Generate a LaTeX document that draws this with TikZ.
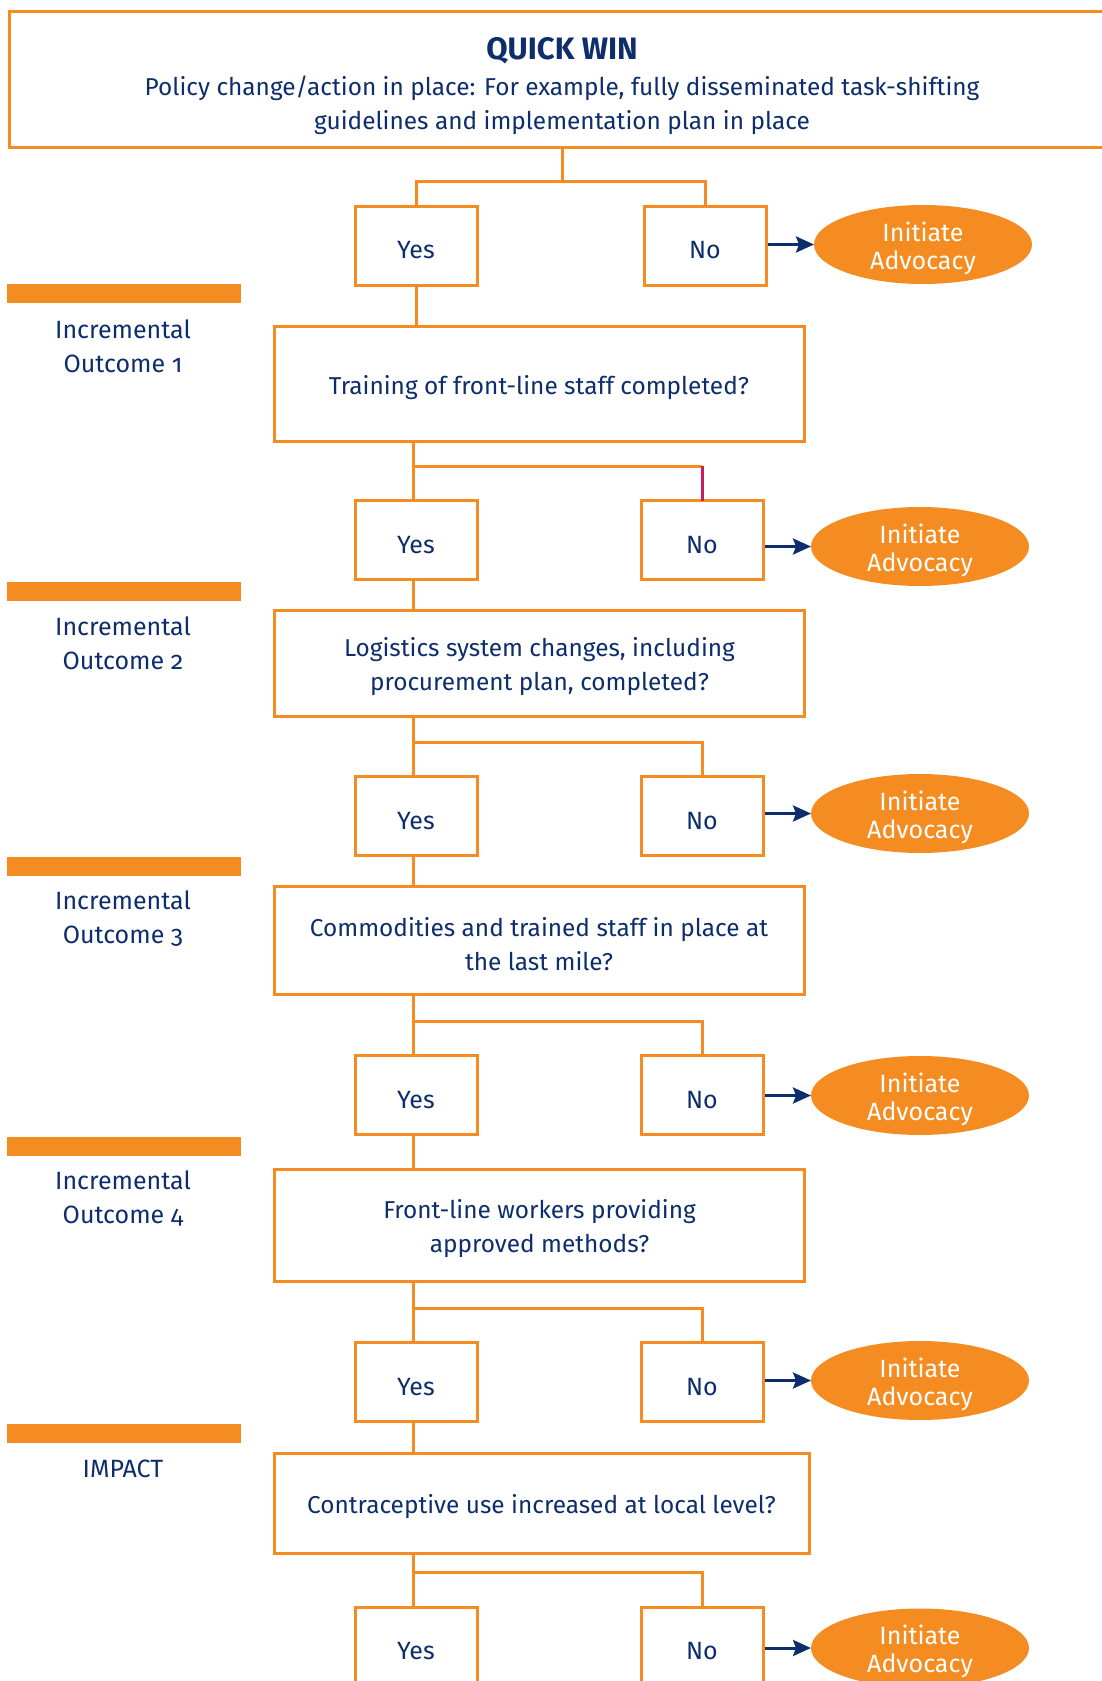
\documentclass[tikz,border=0pt]{standalone}
\usepackage{fontspec}
\setmainfont{Fira Sans}
\newfontfamily\oldnums[Numbers=OldStyle]{Fira Sans}
\usepackage{xcolor}
\usepackage{tikz}
\usetikzlibrary{shapes.geometric,arrows.meta,calc}

\definecolor{navyblue}{HTML}{0D2D6C}
\definecolor{tangerine}{HTML}{F58C21}
\definecolor{crimson}{HTML}{C71E5E}

% taller first line, so the text sits a little lower in its box
\newcommand\lift{\rule{0pt}{13.5pt}}

\begin{document}
\begin{tikzpicture}[x=0.5pt,y=-0.5pt,inner sep=0,outer sep=0,
    every node/.style={text=navyblue,font=\fontsize{12.5}{17}\selectfont},
    ansbox/.style={draw=tangerine,line width=1.5pt,minimum width=61pt,minimum height=39.5pt},
    qbox/.style={draw=tangerine,line width=1.5pt,minimum width=265pt,align=center,
        font=\fontsize{12.2}{17}\selectfont},
    advocacy/.style={ellipse,fill=tangerine,text=white,minimum width=109pt,minimum height=39.5pt,
        inner ysep=-3pt,align=center,font=\fontsize{12.5}{14}\selectfont},
    stagelabel/.style={align=center,font=\oldnums\fontsize{12.5}{17}\selectfont},
    link/.style={draw=tangerine,line width=1.5pt},
    push/.style={draw=navyblue,line width=1.5pt,shorten <=1pt,-{Stealth[length=9pt,width=8pt,inset=1.5pt]}}]

    \useasboundingbox (0,0) rectangle (1102,1681);

    % Quick win
    \node[draw=tangerine,line width=1.5pt,minimum width=551.5pt,minimum height=68pt] (quickwin) at (560.5,79) {};
    \node[align=center,font=\fontsize{12.2}{17}\selectfont] (quicktext) at (562,86) {{\fontsize{15.5}{17}\selectfont\bfseries QUICK WIN}\\[1pt]
        Policy change/action in place: For example, fully disseminated task-shifting\\
        guidelines and implementation plan in place};

    % Stage bars and labels
    \fill[tangerine] (7,284) rectangle (241,303);
    \fill[tangerine] (7,582) rectangle (241,601);
    \fill[tangerine] (7,856.5) rectangle (241,876);
    \fill[tangerine] (7,1137) rectangle (241,1156);
    \fill[tangerine] (7,1424) rectangle (241,1443);
    \node[stagelabel] (stageA) at (123,346) {Incremental\\Outcome 1};
    \node[stagelabel] (stageB) at (123,643.5) {Incremental\\Outcome 2};
    \node[stagelabel] (stageC) at (123,919) {Incremental\\Outcome 3};
    \node[stagelabel] (stageD) at (123,1198.5) {Incremental\\Outcome 4};
    \node[stagelabel] (stageE) at (123,1468.6) {IMPACT};

    % Questions
    \node[qbox,minimum height=57.5pt] (qA) at (539,383.5) {\lift Training of front-line staff completed?};
    \node[qbox,minimum height=53pt] (qB) at (539.5,663) {\lift Logistics system changes, including\\procurement plan, completed?};
    \node[qbox,minimum height=54pt] (qC) at (539,940) {\lift Commodities and trained staff in place at\\the last mile?};
    \node[qbox,minimum height=56pt] (qD) at (539.5,1225) {\lift Front-line workers providing\\approved methods?};
    \node[qbox,minimum height=50pt,minimum width=267.5pt] (qE) at (541.5,1503) {\lift Contraceptive use increased at local level?};

    % Yes / No answers
    \node[ansbox] (yesA) at (416,245.5) {\lift Yes};
    \node[ansbox] (noA) at (705,245.5) {\lift No};
    \node[advocacy] (advA) at (923,244.5) {\lift Initiate\\Advocacy};
    \node[ansbox] (yesB) at (416,540) {\lift Yes};
    \node[ansbox] (noB) at (702,540) {\lift No};
    \node[advocacy] (advB) at (920,546.5) {\lift Initiate\\Advocacy};
    \node[ansbox] (yesC) at (416,816) {\lift Yes};
    \node[ansbox] (noC) at (702,816) {\lift No};
    \node[advocacy] (advC) at (920,813.5) {\lift Initiate\\Advocacy};
    \node[ansbox] (yesD) at (416,1095) {\lift Yes};
    \node[ansbox] (noD) at (702,1095) {\lift No};
    \node[advocacy] (advD) at (920,1095.5) {\lift Initiate\\Advocacy};
    \node[ansbox] (yesE) at (416,1382) {\lift Yes};
    \node[ansbox] (noE) at (702,1382) {\lift No};
    \node[advocacy] (advE) at (920,1380.5) {\lift Initiate\\Advocacy};
    \node[ansbox] (yesF) at (416,1646.5) {\lift Yes};
    \node[ansbox] (noF) at (702,1646.5) {\lift No};
    \node[advocacy] (advF) at (920,1648) {\lift Initiate\\Advocacy};

    % Forks
    \coordinate (forkA) at (562,181);
    \coordinate (forkB) at (413,466);
    \coordinate (forkC) at (413,742);
    \coordinate (forkD) at (413,1021.6);
    \coordinate (forkE) at (413,1308);
    \coordinate (forkF) at (413,1572.6);

    \draw[link] (quickwin.south -| forkA) -- (forkA);
    \draw[link] (yesA.north) -- (yesA.north |- forkA) -| (noA.north);
    \draw[link] (yesA.south) -- (yesA.south |- qA.north);

    \draw[link] (qA.south -| forkB) -- (forkB |- yesB.north);
    \draw[link] (forkB) -- (forkB -| noB.north);
    \draw[crimson,line width=1.5pt] (forkB -| noB.north) -- (noB.north);
    \draw[link] (yesB.south -| forkB) -- (forkB |- qB.north);

    \draw[link] (qB.south -| forkC) -- (forkC |- yesC.north);
    \draw[link] (forkC) -| (noC.north);
    \draw[link] (yesC.south -| forkC) -- (forkC |- qC.north);

    \draw[link] (qC.south -| forkD) -- (forkD |- yesD.north);
    \draw[link] (forkD) -| (noD.north);
    \draw[link] (yesD.south -| forkD) -- (forkD |- qD.north);

    \draw[link] (qD.south -| forkE) -- (forkE |- yesE.north);
    \draw[link] (forkE) -| (noE.north);
    \draw[link] (yesE.south -| forkE) -- (forkE |- qE.north);

    \draw[link] (qE.south -| forkF) -- (forkF |- yesF.north);
    \draw[link] (forkF) -| (noF.north);

    % Arrows to advocacy
    \draw[push] (advA.west -| noA.east) -- (advA.west);
    \draw[push] (advB.west -| noB.east) -- (advB.west);
    \draw[push] (advC.west -| noC.east) -- (advC.west);
    \draw[push] (advD.west -| noD.east) -- (advD.west);
    \draw[push] (advE.west -| noE.east) -- (advE.west);
    \draw[push] (advF.west -| noF.east) -- (advF.west);

\end{tikzpicture}
\end{document}
